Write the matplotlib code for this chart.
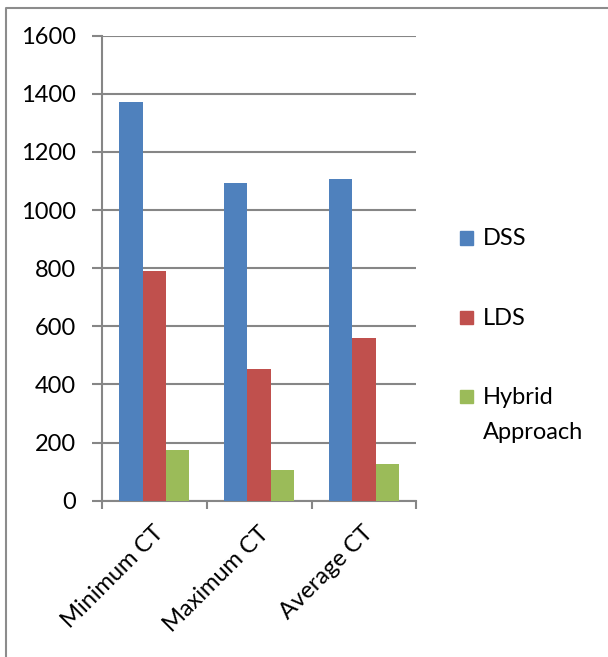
import matplotlib
matplotlib.use("Agg")
import matplotlib.pyplot as plt
import matplotlib.transforms as mtransforms
import numpy as np
from matplotlib.lines import Line2D
from matplotlib.patches import Rectangle

categories = ["Minimum CT", "Maximum CT", "Average CT"]
series_names = ["DSS", "LDS", "Hybrid\nApproach"]
dss = [1372, 1092, 1107]
lds = [789, 452, 561]
hybrid = [176, 107, 128]
series_values = [dss, lds, hybrid]
colors = ["#4F81BD", "#C0504D", "#9BBB59"]
y_ticks = [0, 200, 400, 600, 800, 1000, 1200, 1400, 1600]

plt.rcParams["font.family"] = ["Lato", "DejaVu Sans"]
FS = 17
W, H = 608, 657
fig = plt.figure(figsize=(W / 100, H / 100), dpi=100)
ax = fig.add_axes([101.7 / W, 1 - 500.7 / H, (416.5 - 101.7) / W, (500.7 - 35.7) / H])

grey = "#868686"
x = np.arange(len(categories))
bw = 0.222
for i, (vals, col) in enumerate(zip(series_values, colors)):
    ax.bar(x + (i - 1) * bw, vals, width=bw, color=col, zorder=3, linewidth=0)

ax.set_xlim(-0.5, len(categories) - 0.5)
ax.set_ylim(0, 1600)
ax.set_yticks(y_ticks)
ax.set_yticklabels([str(v) for v in y_ticks], fontsize=FS)
ax.yaxis.grid(True, color=grey, linewidth=1.5, zorder=0)
ax.tick_params(axis="y", length=7.2, width=1.5, color=grey, pad=11.5)

ax.set_xticks(x)
ax.set_xticklabels(categories, fontsize=FS, rotation=45, ha="right",
                   va="center", rotation_mode="anchor")
ax.tick_params(axis="x", which="major", length=0, pad=21)
shift = mtransforms.ScaledTranslation(6 / 100, 0, fig.dpi_scale_trans)
for lbl in ax.get_xticklabels():
    lbl.set_transform(lbl.get_transform() + shift)
ax.set_xticks(np.arange(len(categories) + 1) - 0.5, minor=True)
ax.tick_params(axis="x", which="minor", length=5.8, width=1.5, color=grey)

for side in ["top", "right"]:
    ax.spines[side].set_visible(False)
for side in ["left", "bottom"]:
    ax.spines[side].set_color(grey)
    ax.spines[side].set_linewidth(1.5)
ax.set_axisbelow(True)

# legend entries, drawn in figure pixel space
legend_y = [238, 317.5, 396.5]
for name, col, yc in zip(series_names, colors, legend_y):
    fig.patches.append(Rectangle((460 / W, 1 - (yc + 6.5) / H), 13 / W, 13 / H,
                                 transform=fig.transFigure, color=col))
    lines = name.split("\n")
    fig.text(483 / W, 1 - (yc + 1) / H, lines[0], fontsize=FS,
             ha="left", va="center")
    if len(lines) > 1:
        fig.text(483 / W, 1 - (yc + 36) / H, lines[1], fontsize=FS,
                 ha="left", va="center")

# chart frame (left and top edges)
fig.add_artist(Line2D([6 / W, 6 / W, 607 / W], [0, 1 - 7.5 / H, 1 - 7.5 / H],
                      transform=fig.transFigure, color="#8c8c8c", linewidth=1.5))

fig.savefig("out.png", dpi=100)
